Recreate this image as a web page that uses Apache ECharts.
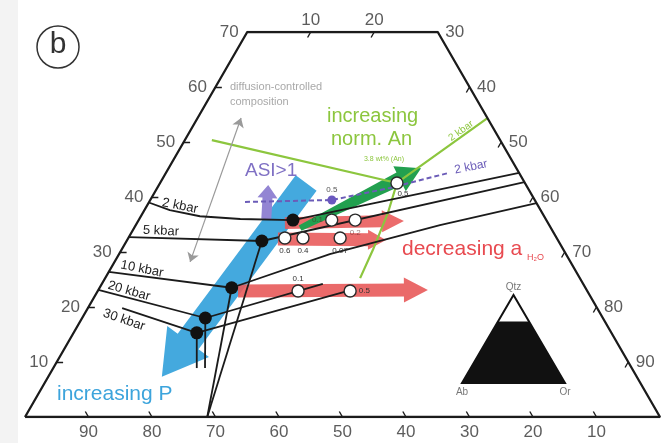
<!DOCTYPE html>
<html>
<head>
<meta charset="utf-8">
<script src="https://cdn.jsdelivr.net/npm/echarts@6/dist/echarts.min.js"></script>
<style>html,body{margin:0;padding:0;background:#fff}#chart{width:667px;height:443px}</style>
</head>
<body>
<div id="chart"></div>
<script>
// Compositions are [Qz, Ab, Or] in percent (truncated Qz–Ab–Or ternary, Qz <= 70).
const qzTicks = [10, 20, 30, 40, 50, 60, 70];
const orTicksTop = [10, 20];
const orTicksRight = [30, 40, 50, 60, 70, 80, 90];
const abTicks = [90, 80, 70, 60, 50, 40, 30, 20, 10];

const outline = [[0, 100, 0], [70, 30, 0], [70, 0, 30], [0, 0, 100], [0, 100, 0]];

// cotectic lines, left branch (to the minimum) and right branch
const kbar2 = [[39.0, 61.0, 0], [37.6, 58.4, 4.0], [36.5, 54.2, 9.3], [36.0, 48.1, 15.9], [35.8, 39.9, 24.3], [44.4, 0, 55.6]];
const kbar5 = [[32.7, 67.3, 0], [32.0, 46.7, 21.3], [42.7, 0, 57.3]];
const kbar10 = [[26.4, 73.6, 0], [23.5, 55.7, 20.8], [29.6, 37.2, 33.2], [34.9, 17.2, 47.9], [38.9, 0, 61.1]];
const kbar20 = [[23.1, 76.9, 0], [18.0, 62.6, 19.4], [24.2, 41.0, 34.8]];
const kbar30 = [[19.8, 74.8, 5.4], [15.3, 65.3, 19.4], [23.1, 37.0, 39.9]];
// feldspar field boundaries below the minima
const bound5 = [[32.0, 46.7, 21.3], [0, 71.3, 28.7]];
const bound10 = [[23.5, 55.7, 20.8], [0, 71.3, 28.7]];
const bound20 = [[18.0, 62.6, 19.4], [8.9, 67.2, 23.9]];
const bound30 = [[15.3, 65.3, 19.4], [8.9, 68.5, 22.6]];

const minima = [[35.8, 39.9, 24.3], [32.0, 46.7, 21.3], [23.5, 55.7, 20.8], [18.0, 62.6, 19.4], [15.3, 65.3, 19.4]];

const meltComps = [[35.8, 33.8, 30.4], [35.8, 30.1, 34.1], [32.55, 42.8, 24.65], [32.55, 39.95, 27.5],
  [32.55, 34.1, 33.35], [42.55, 20.15, 37.3], [22.9, 45.55, 31.55], [22.9, 37.35, 39.75]];
const meltLabels = ['0.1', '0.2', '0.6', '0.4', '0.07', '0.5', '0.1', '0.5'];

const asiLine = [[39.1, 45.8, 15.1], [39.45, 31.95, 28.6], [41.65, 21.7, 36.65], [44.35, 11.2, 44.45]];
const asiPoint = [39.45, 31.95, 28.6];
const asiLabel = '0.5';

const anLineA = [[50.35, 45.4, 4.25], [42.55, 20.15, 37.3], [54.35, 0, 45.65]];
const anLineB = [[42.55, 20.15, 37.3], [37.1, 24.3, 38.6], [30.35, 30.05, 39.6], [25.25, 34.6, 40.15]];

const diffusionArrow = [[54.35, 38.8, 6.85], [28.2, 59.9, 11.9]];

const arrowP = [[42.55, 34.45, 23.0], [7.3, 74.8, 17.9]];
const arrowAsi = [[36.0, 44.0, 20.0], [42.2, 40.6, 17.2]];
const arrowAn = [[34.35, 39.5, 26.15], [45.25, 15.0, 39.75]];
const arrowWaterA = [[35.25, 41.45, 23.3], [35.65, 22.5, 41.85]];
const arrowWaterB = [[32.35, 44.0, 23.65], [32.2, 27.05, 40.75]];
const arrowWaterC = [[22.9, 55.0, 22.1], [23.1, 25.0, 51.9]];

const insetCorners = [[0, 100, 0], [0, 0, 100], [100, 0, 0], [0, 100, 0]];
const insetField = [[0, 100, 0], [0, 0, 100], [70, 0, 30], [70, 30, 0]];
const insetNames = [['Qtz', [100, 0, 0]], ['Ab', [0, 100, 0]], ['Or', [0, 0, 100]]];

const FONT = '"Liberation Sans", Arial, Helvetica, sans-serif';

// ternary -> cartesian (x along Ab–Or base, y = Qz height in Qz units)
const T = c => [c[2] + c[0] / 2, c[0]];

function lineSeries(pts, color, width, z, dash) {
  return {
    type: 'line', xAxisIndex: 0, yAxisIndex: 0, data: pts.map(T), showSymbol: false, silent: true, z,
    lineStyle: { color, width, type: dash || 'solid' }, animation: false
  };
}

function arrowShape(p0, p1, s) {
  const dx = p1[0] - p0[0], dy = p1[1] - p0[1];
  const L = Math.hypot(dx, dy), ux = dx / L, uy = dy / L, nx = -uy, ny = ux;
  const hb = [p1[0] - ux * s.head, p1[1] - uy * s.head];
  const at = (b, w) => [b[0] + nx * w, b[1] + ny * w];
  return [at(p0, s.tail), at(hb, s.body), at(hb, s.headW), p1, at(hb, -s.headW), at(hb, -s.body), at(p0, -s.tail)];
}

function arrowSeries(pts, st, color, z) {
  const a = T(pts[0]), b = T(pts[1]);
  return {
    type: 'custom', xAxisIndex: 0, yAxisIndex: 0, z, silent: true, animation: false,
    data: [[a[0], a[1], b[0], b[1]]],
    encode: { x: [0, 2], y: [1, 3] },
    renderItem: (params, api) => {
      const p0 = api.coord([api.value(0), api.value(1)]);
      const p1 = api.coord([api.value(2), api.value(3)]);
      return { type: 'polygon', shape: { points: arrowShape(p0, p1, st) }, style: { fill: color } };
    }
  };
}

function labelSeries(items, labelOpt, gi) {
  return {
    type: 'scatter', xAxisIndex: gi || 0, yAxisIndex: gi || 0, symbolSize: 1, silent: true, z: 8, animation: false,
    itemStyle: { color: 'rgba(0,0,0,0)' },
    data: items.map(it => ({ value: T(it[1]), name: it[0] })),
    label: Object.assign({ show: true, formatter: p => p.name, color: '#333', fontSize: 17, fontFamily: FONT }, labelOpt)
  };
}

// tick segments, each one percent long along the matching iso-line
const tickSegs = [];
qzTicks.slice(0, -1).forEach(q => tickSegs.push([[q, 100 - q, 0], [q, 99 - q, 1]]));
orTicksTop.forEach(o => tickSegs.push([[70, 30 - o, o], [69, 31 - o, o]]));
orTicksRight.slice(1).forEach(o => tickSegs.push([[100 - o, 0, o], [99 - o, 1, o]]));
abTicks.forEach(a => tickSegs.push([[0, a, 100 - a], [1, a, 99 - a]]));

const series = [];

// broad coloured arrows (under the phase relations)
series.push(arrowSeries(arrowP, { tail: 13, body: 13, headW: 26, head: 44 }, '#44a9de', 1));
series.push(arrowSeries(arrowWaterA, { tail: 6, body: 6, headW: 11, head: 22 }, 'rgba(232,88,88,0.88)', 1));
series.push(arrowSeries(arrowWaterB, { tail: 6.5, body: 6.5, headW: 10, head: 18 }, 'rgba(232,88,88,0.88)', 1));
series.push(arrowSeries(arrowWaterC, { tail: 6.5, body: 6.5, headW: 12.5, head: 24 }, 'rgba(232,90,90,0.9)', 1));
series.push(arrowSeries(arrowAn, { tail: 3, body: 7, headW: 14, head: 24 }, '#22a04f', 2));
series.push(arrowSeries(arrowAsi, { tail: 5, body: 5, headW: 10, head: 13 }, '#9385d3', 2));

// ASI > 1 trend at 2 kbar
series.push(lineSeries(asiLine, '#6b5cb8', 2, 3, [5, 3]));

// normative An trend
series.push(lineSeries(anLineA, '#8cc63e', 2.2, 3));
series.push(lineSeries(anLineB, '#8cc63e', 2.2, 3));

// phase relations
[kbar2, kbar5, kbar10, kbar20, kbar30, bound5, bound10, bound20, bound30].forEach(p =>
  series.push(lineSeries(p, '#1b1b1b', 1.8, 4)));
series.push(lineSeries(outline, '#1b1b1b', 2.3, 4));

// ticks
series.push({
  type: 'lines', coordinateSystem: 'cartesian2d', xAxisIndex: 0, yAxisIndex: 0, silent: true, z: 4, animation: false,
  lineStyle: { color: '#1b1b1b', width: 1.4, opacity: 1 },
  data: tickSegs.map(s => ({ coords: [T(s[0]), T(s[1])] }))
});

// diffusion-controlled composition double arrow
series.push({
  type: 'lines', coordinateSystem: 'cartesian2d', xAxisIndex: 0, yAxisIndex: 0, silent: true, z: 4, animation: false,
  symbol: ['arrow', 'arrow'], symbolSize: 9,
  lineStyle: { color: '#9a9a9a', width: 1.2, opacity: 1 },
  data: [{ coords: [T(diffusionArrow[0]), T(diffusionArrow[1])] }]
});

// minima (black) and melt compositions (open)
series.push({
  type: 'scatter', xAxisIndex: 0, yAxisIndex: 0, silent: true, z: 6, animation: false, symbolSize: 13,
  itemStyle: { color: '#111', opacity: 1 }, data: minima.map(T)
});
series.push({
  type: 'scatter', xAxisIndex: 0, yAxisIndex: 0, silent: true, z: 6, animation: false, symbolSize: 9,
  itemStyle: { color: '#6a58bf', opacity: 1 }, data: [T(asiPoint)],
  label: { show: true, position: 'top', distance: 2, formatter: asiLabel, fontSize: 8, color: '#555', fontFamily: FONT }
});
const meltLabelPos = ['left', 'bottom', 'bottom', 'bottom', 'bottom', 'bottom', 'top', 'right'];
series.push({
  type: 'scatter', xAxisIndex: 0, yAxisIndex: 0, silent: true, z: 7, animation: false, symbolSize: 12,
  itemStyle: { color: '#ffffff', borderColor: '#2a2a2a', borderWidth: 1.4, opacity: 1 },
  data: meltComps.map((c, i) => ({
    value: T(c),
    label: { show: true, formatter: meltLabels[i], position: meltLabelPos[i], distance: i === 5 ? 0 : 2,
      offset: i === 5 ? [6, 0] : [0, 0], fontSize: 8, color: i < 2 ? 'rgba(90,30,30,0.6)' : '#333', fontFamily: FONT }
  }))
});

// axis labels
series.push(labelSeries(qzTicks.map(q => [String(q), [q, 100 - q, 0]]), { position: 'left', distance: 8 }));
series.push(labelSeries(orTicksTop.map(o => [String(o), [70, 30 - o, o]]), { position: 'top', distance: 3 }));
series.push(labelSeries(orTicksRight.map(o => [String(o), [100 - o, 0, o]]), { position: 'right', distance: 7 }));
series.push(labelSeries(abTicks.map(a => [String(a), [0, a, 100 - a]]), { position: 'bottom', distance: 6 }));

// inset: Qtz–Ab–Or with the plotted field
series.push({
  type: 'custom', xAxisIndex: 1, yAxisIndex: 1, silent: true, z: 5, animation: false,
  data: insetField.map(T),
  renderItem: (params, api) => {
    if (params.dataIndex !== 0) return;
    const field = insetField.map(c => api.coord(T(c)));
    const tri = insetCorners.map(c => api.coord(T(c)));
    return {
      type: 'group', children: [
        { type: 'polygon', shape: { points: tri }, style: { fill: '#fff', stroke: '#111', lineWidth: 2 } },
        { type: 'polygon', shape: { points: field }, style: { fill: '#111' } }
      ]
    };
  }
});
series.push(labelSeries(insetNames.filter(n => n[0] === 'Qtz'), { position: 'top', distance: 2, fontSize: 10, color: '#555' }, 1));
series.push(labelSeries(insetNames.filter(n => n[0] !== 'Qtz'), { position: 'bottom', distance: 4, fontSize: 10, color: '#555' }, 1));

const txt = (text, x, y, size, fill, extra) => Object.assign({
  type: 'text', x, y, z: 100, silent: true,
  style: { text, font: size + 'px ' + FONT, fill, align: 'left', verticalAlign: 'middle', textAlign: 'left', textVerticalAlign: 'middle' }
}, extra || {});
const ctxt = (text, x, y, size, fill, rot) => {
  const t = txt(text, x, y, size, fill, { rotation: rot || 0 });
  t.style.align = t.style.textAlign = 'center';
  return t;
};

const chart = echarts.init(document.getElementById('chart'), null, { renderer: 'canvas' });
chart.setOption({
  animation: false,
  backgroundColor: '#ffffff',
  grid: [
    { left: 25, top: 32, width: 635, height: 385 },
    { left: 462, top: 295, width: 103, height: 88 }
  ],
  xAxis: [
    { type: 'value', min: 0, max: 100, show: false, gridIndex: 0 },
    { type: 'value', min: 0, max: 100, show: false, gridIndex: 1 }
  ],
  yAxis: [
    { type: 'value', min: 0, max: 70, show: false, gridIndex: 0 },
    { type: 'value', min: 0, max: 100, show: false, gridIndex: 1 }
  ],
  graphic: [
    { type: 'rect', shape: { x: 0, y: 0, width: 18, height: 443 }, style: { fill: '#f3f3f3' }, z: -10, silent: true },
    { type: 'circle', shape: { cx: 58, cy: 47, r: 21 }, style: { fill: 'none', stroke: '#333', lineWidth: 1.5 }, z: 100, silent: true },
    ctxt('b', 58, 45, 30, '#333'),
    txt('diffusion-controlled', 230, 87, 11, '#a9a9a9'),
    txt('composition', 230, 102, 11, '#a9a9a9'),
    txt('increasing', 327, 116, 20, '#8cc63e'),
    txt('norm. An', 331, 139, 20, '#8cc63e'),
    ctxt('3.8 wt% (An)', 384, 159, 7, '#8cc63e'),
    ctxt('2 kbar', 461, 131, 10, '#8cc63e', 0.62),
    txt('ASI>1', 245, 171, 19, '#7f70c4'),
    ctxt('2 kbar', 471, 167, 12, '#6b5cb8', 0.2),
    txt('decreasing a', 402, 249, 21, '#e84a50'),
    txt('H\u2082O', 527, 258, 9, '#e84a50'),
    txt('increasing P', 57, 394, 21, '#3ca4dc'),
    ctxt('2 kbar', 180, 206, 13, '#222', -0.2),
    ctxt('5 kbar', 161, 231, 13, '#222', -0.05),
    ctxt('10 kbar', 142, 269, 13, '#222', -0.2),
    ctxt('20 kbar', 129, 291, 13, '#222', -0.28),
    ctxt('30 kbar', 124, 320, 13, '#222', -0.33)
  ],
  series
});
</script>
</body>
</html>
